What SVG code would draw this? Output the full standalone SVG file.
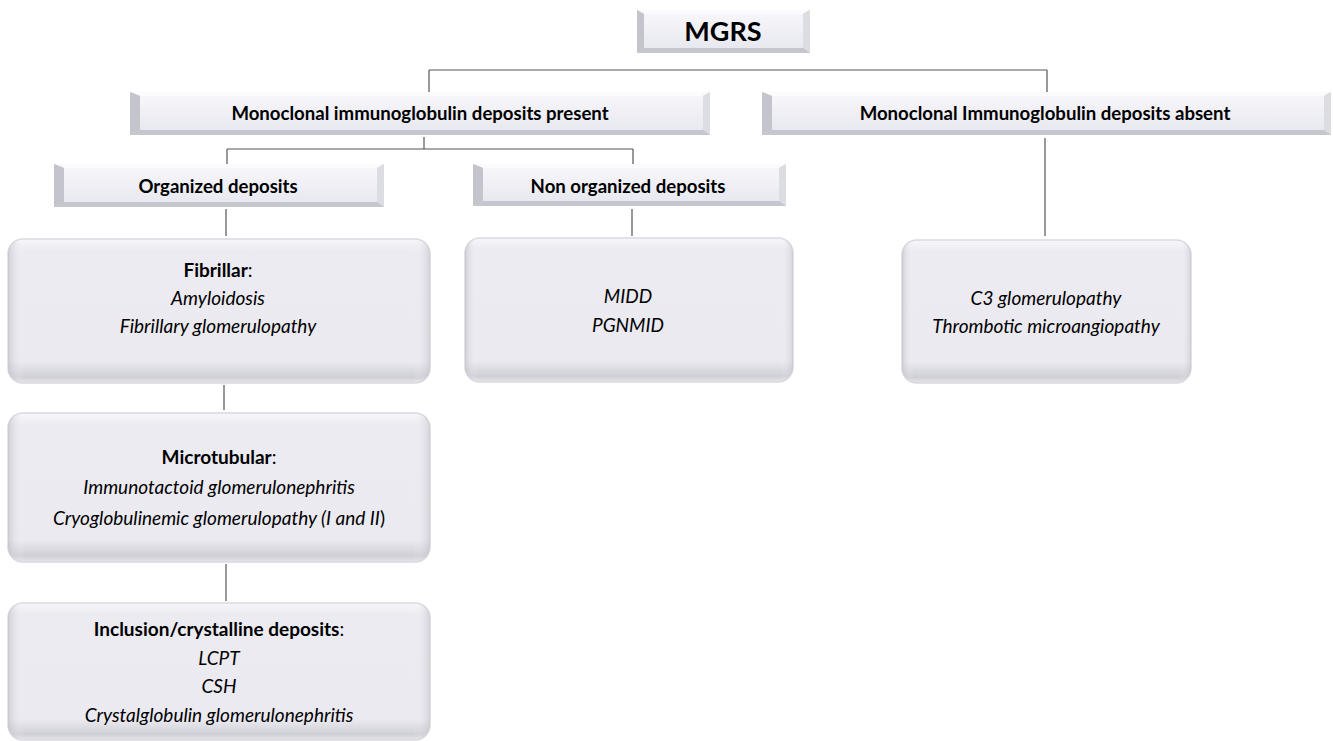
<svg xmlns="http://www.w3.org/2000/svg" width="1333" height="741" viewBox="0 0 1333 741">
<style>
  text { font-family: Lato, "Open Sans", "Liberation Sans", sans-serif; fill: #000; text-anchor: middle; }
  .hd { font-weight: bold; font-size: 18.6px; }
  .big { font-weight: bold; font-size: 27px; }
  .it { font-style: italic; font-size: 19px; }
  .b { font-weight: bold; font-size: 19px; }
  .face { fill: url(#faceG); }
  .conn line { stroke: #555; stroke-width: 1.2; }
  .rbox { fill: url(#rG); stroke: #d9d9df; stroke-width: 1.5; }
  .rshade { fill: url(#rH); }
</style>
<defs>
  <linearGradient id="faceG" x1="0" y1="0" x2="0" y2="1">
    <stop offset="0" stop-color="#f6f6fa"/>
    <stop offset="1" stop-color="#e8e8f0"/>
  </linearGradient>
  <linearGradient id="rG" x1="0" y1="0" x2="0" y2="1">
    <stop offset="0" stop-color="#f7f7fa"/>
    <stop offset="0.08" stop-color="#ecebf2"/>
    <stop offset="0.85" stop-color="#ebeaf1"/>
    <stop offset="0.96" stop-color="#cfcfd6"/>
    <stop offset="1" stop-color="#e6e6ea"/>
  </linearGradient>
  <linearGradient id="rH" x1="0" y1="0" x2="1" y2="0">
    <stop offset="0" stop-color="#b8b8c2" stop-opacity="0.55"/>
    <stop offset="0.04" stop-color="#ffffff" stop-opacity="0"/>
    <stop offset="0.96" stop-color="#ffffff" stop-opacity="0"/>
    <stop offset="1" stop-color="#b8b8c2" stop-opacity="0.45"/>
  </linearGradient>
</defs>

<g class="conn" id="connectors">
  <line x1="429" y1="70" x2="1047" y2="70"/>
  <line x1="429" y1="70" x2="429" y2="92"/>
  <line x1="1047" y1="70" x2="1047" y2="92"/>
  <line x1="424" y1="137" x2="424" y2="149"/>
  <line x1="227" y1="149" x2="633" y2="149"/>
  <line x1="227" y1="149" x2="227" y2="164"/>
  <line x1="633" y1="149" x2="633" y2="164"/>
  <line x1="226" y1="209" x2="226" y2="236"/>
  <line x1="632" y1="209" x2="632" y2="236"/>
  <line x1="1045" y1="138" x2="1045" y2="236"/>
  <line x1="224" y1="385" x2="224" y2="410"/>
  <line x1="226" y1="564" x2="226" y2="601"/>
</g>

<g id="mgrs">
  <rect x="637" y="10" width="173" height="43" fill="#d2d2da"/>
  <polygon points="637,10 810,10 803,14 644,14" fill="#fbfbfd"/>
  <polygon points="637,10 644,14 644,48 637,53" fill="#c4c4cc"/>
  <polygon points="810,10 810,53 803,48 803,14" fill="#dcdce3"/>
  <polygon points="637,53 644,48 803,48 810,53" fill="#c6c6ce"/>
  <rect x="644" y="14" width="159" height="34" class="face"/>
  <text x="723" y="41" class="big">MGRS</text>
</g>

<g id="present">
  <rect x="130" y="92" width="580" height="43" fill="#d2d2da"/>
  <polygon points="130,92 710,92 703,96 140,96" fill="#fbfbfd"/>
  <polygon points="130,92 140,96 140,130 130,135" fill="#c4c4cc"/>
  <polygon points="710,92 710,135 703,130 703,96" fill="#dcdce3"/>
  <polygon points="130,135 140,130 703,130 710,135" fill="#c6c6ce"/>
  <rect x="140" y="96" width="563" height="34" class="face"/>
  <text x="420" y="120" class="hd">Monoclonal immunoglobulin deposits present</text>
</g>

<g id="absent">
  <rect x="762" y="92" width="569" height="43" fill="#d2d2da"/>
  <polygon points="762,92 1331,92 1324,96 772,96" fill="#fbfbfd"/>
  <polygon points="762,92 772,96 772,130 762,135" fill="#c4c4cc"/>
  <polygon points="1331,92 1331,135 1324,130 1324,96" fill="#dcdce3"/>
  <polygon points="762,135 772,130 1324,130 1331,135" fill="#c6c6ce"/>
  <rect x="772" y="96" width="552" height="34" class="face"/>
  <text x="1045" y="120" class="hd">Monoclonal Immunoglobulin deposits absent</text>
</g>

<g id="organized">
  <rect x="54" y="164" width="330" height="43" fill="#d2d2da"/>
  <polygon points="54,164 384,164 377,168 64,168" fill="#fbfbfd"/>
  <polygon points="54,164 64,168 64,202 54,207" fill="#c4c4cc"/>
  <polygon points="384,164 384,207 377,202 377,168" fill="#dcdce3"/>
  <polygon points="54,207 64,202 377,202 384,207" fill="#c6c6ce"/>
  <rect x="64" y="168" width="313" height="34" class="face"/>
  <text x="218" y="193" class="hd">Organized deposits</text>
</g>

<g id="nonorganized">
  <rect x="473" y="164" width="313" height="42" fill="#d2d2da"/>
  <polygon points="473,164 786,164 779,168 483,168" fill="#fbfbfd"/>
  <polygon points="473,164 483,168 483,201 473,206" fill="#c4c4cc"/>
  <polygon points="786,164 786,206 779,201 779,168" fill="#dcdce3"/>
  <polygon points="473,206 483,201 779,201 786,206" fill="#c6c6ce"/>
  <rect x="483" y="168" width="296" height="33" class="face"/>
  <text x="628" y="193" class="hd">Non organized deposits</text>
</g>

<g id="fibrillar">
  <rect x="8" y="239" width="422" height="144" rx="15" class="rbox"/>
  <rect x="8" y="239" width="422" height="144" rx="15" class="rshade"/>
  <text x="218" y="277" class="b">Fibrillar<tspan font-weight="normal">:</tspan></text>
  <text x="218" y="305" class="it">Amyloidosis</text>
  <text x="218" y="333" class="it">Fibrillary glomerulopathy</text>
</g>

<g id="nonorg-list">
  <rect x="465" y="238" width="328" height="144" rx="15" class="rbox"/>
  <rect x="465" y="238" width="328" height="144" rx="15" class="rshade"/>
  <text x="628" y="303" class="it">MIDD</text>
  <text x="628" y="332" class="it">PGNMID</text>
</g>

<g id="absent-list">
  <rect x="902" y="240" width="289" height="143" rx="15" class="rbox"/>
  <rect x="902" y="240" width="289" height="143" rx="15" class="rshade"/>
  <text x="1046" y="305" class="it">C3 glomerulopathy</text>
  <text x="1046" y="333" class="it">Thrombotic microangiopathy</text>
</g>

<g id="microtubular">
  <rect x="8" y="413" width="422" height="149" rx="15" class="rbox"/>
  <rect x="8" y="413" width="422" height="149" rx="15" class="rshade"/>
  <text x="219" y="464" class="b">Microtubular<tspan font-weight="normal">:</tspan></text>
  <text x="219" y="494" class="it">Immunotactoid glomerulonephritis</text>
  <text x="219" y="525" class="it">Cryoglobulinemic glomerulopathy (I and II<tspan font-style="normal">)</tspan></text>
</g>

<g id="inclusion">
  <rect x="8" y="603" width="422" height="137" rx="15" class="rbox"/>
  <rect x="8" y="603" width="422" height="137" rx="15" class="rshade"/>
  <text x="219" y="636" class="b">Inclusion/crystalline deposits<tspan font-weight="normal">:</tspan></text>
  <text x="219" y="665" class="it">LCPT</text>
  <text x="219" y="693" class="it">CSH</text>
  <text x="219" y="722" class="it">Crystalglobulin glomerulonephritis</text>
</g>
</svg>
